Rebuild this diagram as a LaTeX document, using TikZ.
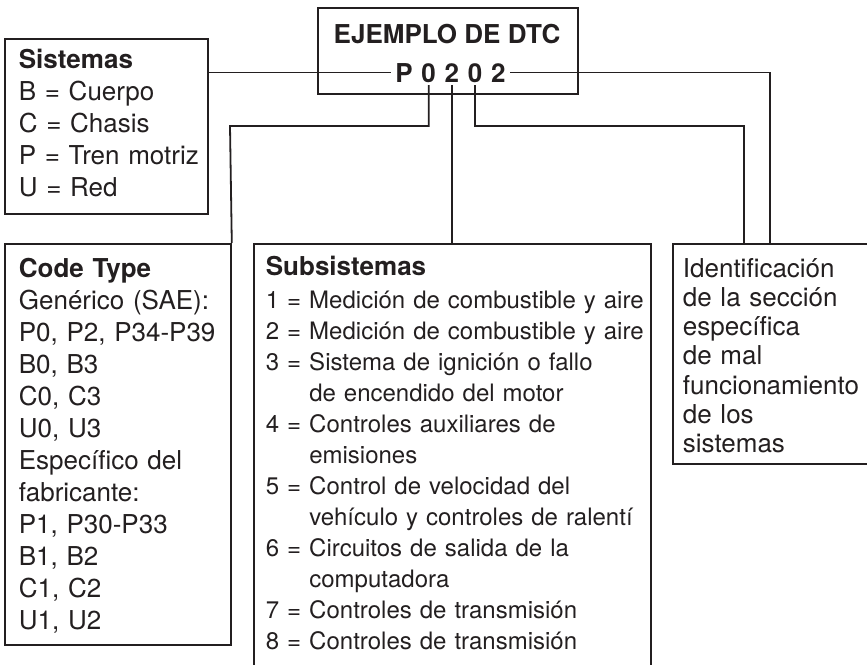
\documentclass[tikz,border=0pt]{standalone}
\usepackage{fontspec}
\setmainfont{TeX Gyre Heros}
\usetikzlibrary{positioning}
\definecolor{ink}{RGB}{35,31,32}
\begin{document}
\begin{tikzpicture}[x=1pt, y=-1pt, line width=1.8pt, color=ink,
    box node/.style={draw, rectangle, inner sep=0pt, anchor=north west},
    text node/.style={inner sep=0pt, anchor=base west, align=left, font=\fontsize{26}{32}\selectfont},
    digit node/.style={inner xsep=3.5pt, inner ysep=2pt, font=\fontsize{26}{30}\selectfont\bfseries}]
  \useasboundingbox (0,0) rectangle (867,664);

  \node[box node, minimum width=260pt, minimum height=86pt] (dtc) at (317,7) {};
  \node[box node, minimum width=203pt, minimum height=175pt] (sis) at (4,38) {};
  \node[box node, minimum width=226pt, minimum height=401pt] (code) at (4,243) {};
  \node[box node, minimum width=397pt, minimum height=440pt] (sub) at (253,243) {};
  \node[box node, minimum width=220pt, minimum height=220pt] (ident) at (672,243) {};

  \node[inner sep=0pt, anchor=base, font=\fontsize{26}{30}\selectfont\bfseries] (title) at (447,43) {EJEMPLO DE DTC};
  \node[digit node, anchor=base] (pP) at (404,82) {P};
  \node[digit node, base right=0pt of pP] (d1) {0};
  \node[digit node, base right=0pt of d1] (d2) {2};
  \node[digit node, base right=0pt of d2] (d3) {0};
  \node[digit node, base right=0pt of d3] (d4) {2};

  \node[text node, text width=190pt] (sistxt) at (18,68) {\textbf{Sistemas}\\
    B = Cuerpo\\ C = Chasis\\ P = Tren motriz\\ U = Red};
  \node[text node, text width=215pt] (codetxt) at (18,277) {\textbf{Code Type}\\
    Genérico (SAE):\\ P0, P2, P34-P39\\ B0, B3\\ C0, C3\\ U0, U3\\
    Específico del\\ fabricante:\\ P1, P30-P33\\ B1, B2\\ C1, C2\\ U1, U2};
  \node[text node, text width=390pt, font=\fontsize{24}{31}\selectfont] (subtxt) at (265,275) {\textbf{\fontsize{26}{31}\selectfont Subsistemas}\\[2pt]
    1 = Medición de combustible y aire\\
    2 = Medición de combustible y aire\\
    3 = Sistema de ignición o fallo\\ \phantom{3 = }de encendido del motor\\
    4 = Controles auxiliares de\\ \phantom{4 = }emisiones\\
    5 = Control de velocidad del\\ \phantom{5 = }vehículo y controles de ralentí\\
    6 = Circuitos de salida de la\\ \phantom{6 = }computadora\\
    7 = Controles de transmisión\\
    8 = Controles de transmisión};
  \node[text node, text width=200pt, font=\fontsize{26}{29.3}\selectfont] (identtxt) at (682,277) {Identificación\\
    de la sección\\ específica\\ de mal\\ funcionamiento\\ de los\\ sistemas};

  \coordinate (bendL) at (230,126);
  \coordinate (bendR) at (744,126);
  \draw (sis.east |- pP) -- (pP.west);
  \draw (d4.east) -| ([xshift=98pt]ident.north west);
  \draw (d1.south) |- (bendL) -- (code.north east);
  \draw (d2.south) -- (d2.south |- sub.north);
  \draw (d3.south) |- (bendR) -- (bendR |- ident.north);
\end{tikzpicture}
\end{document}
